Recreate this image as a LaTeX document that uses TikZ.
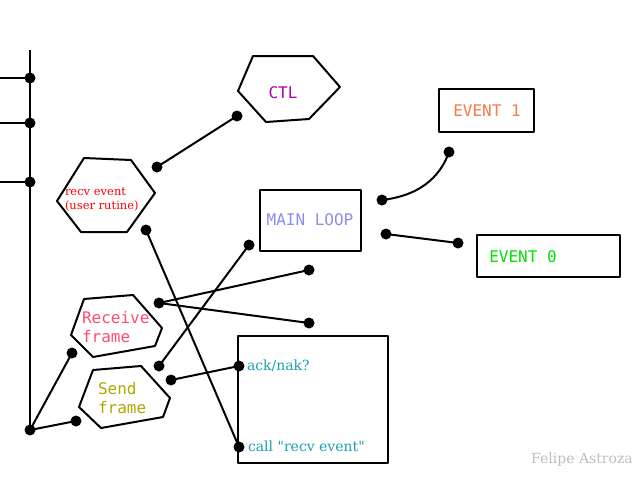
\documentclass[tikz,border=0pt]{standalone}
\usepackage{fontspec}
\setmonofont{DejaVu Sans Mono}
\newfontfamily\plainserif{DejaVu Serif}
\definecolor{ctlc}{RGB}{176,0,176}
\definecolor{mainc}{RGB}{140,140,240}
\definecolor{ev1c}{RGB}{245,122,69}
\definecolor{ev0c}{RGB}{0,225,0}
\definecolor{recc}{RGB}{255,77,110}
\definecolor{sendc}{RGB}{176,168,0}
\definecolor{tealc}{RGB}{26,160,180}
\definecolor{grayc}{RGB}{190,190,190}
\begin{document}
\begin{tikzpicture}[x=1pt,y=-1pt,line width=2pt,line join=round,
  dot/.style={circle,fill=black,inner sep=0pt,minimum size=11pt},
  mono/.style={font=\fontsize{16}{19}\selectfont\ttfamily,inner sep=0pt},
  serif/.style={font=\fontsize{14}{16}\selectfont\plainserif,inner sep=0pt},
  small/.style={font=\fontsize{11.5}{14}\selectfont\plainserif,inner sep=0pt,align=left},
  box/.style={draw=black,line width=2.2pt}]
\useasboundingbox[fill=white] (0,0) rectangle (640,480);

% boxes
\draw[box] (260,190) rectangle (361,251);
\draw[box] (439,89) rectangle (534,132);
\draw[box] (477,235) rectangle (620,277);
\draw[box] (238,336) rectangle (388,463);

% hexagons
\draw (253,56) -- (313,56) -- (340,87) -- (309,119) -- (266,122) -- (238,91) -- cycle;
\draw (84,158) -- (131,160) -- (155,193) -- (127,232) -- (81,232) -- (57,201) -- cycle;
\draw (84,299) -- (133,295) -- (162,328) -- (155,346) -- (93,357) -- (71,335) -- cycle;
\draw (93,370) -- (141,366) -- (170,398) -- (163,417) -- (101,428) -- (79,407) -- cycle;

% texts
\node[mono,text=ctlc] (ctl) at (283,93) {CTL};
\node[mono,text=mainc] (main) at (310,220) {MAIN LOOP};
\node[mono,text=ev1c] (ev1) at (487,111) {EVENT 1};
\node[mono,text=ev0c] (ev0) at (523,257) {EVENT 0};
\node[mono,text=recc,anchor=west,align=left] (recv) at (81,327) {Receive\\frame};
\node[mono,text=sendc,anchor=west,align=left] (send) at (97,398) {Send\\frame};
\node[small,text=red,anchor=west] (rev) at (64,199) {recv event\\(user rutine)};
\node[serif,text=tealc,anchor=west] (ack) at (246,366) {ack/nak?};
\node[serif,text=tealc,anchor=west] (call) at (247,446) {call "recv event"};
\node[serif,text=grayc] (auth) at (582,460) {Felipe Astroza};

% bus
\coordinate (top) at (30,50);
\coordinate (s1) at (0,78);
\coordinate (s2) at (0,123);
\coordinate (s3) at (0,182);
\node[dot] (d1) at (30,78) {};
\node[dot] (d2) at (30,123) {};
\node[dot] (d3) at (30,182) {};
\node[dot] (d4) at (30,430) {};
\draw (top) -- (d4.center);
\draw (s1) -- (d1.center);
\draw (s2) -- (d2.center);
\draw (s3) -- (d3.center);

% dots
\node[dot] (a) at (157,167) {};
\node[dot] (b) at (237,116) {};
\node[dot] (c) at (146,230) {};
\node[dot] (e) at (239,447) {};
\node[dot] (f) at (382,200) {};
\node[dot] (g) at (449,152) {};
\node[dot] (h) at (386,234) {};
\node[dot] (i) at (458,243) {};
\node[dot] (j) at (249,245) {};
\node[dot] (k) at (159,366) {};
\node[dot] (l) at (159,303) {};
\node[dot] (m) at (309,270) {};
\node[dot] (n) at (309,323) {};
\node[dot] (o) at (72,353) {};
\node[dot] (p) at (76,421) {};
\node[dot] (q) at (171,380) {};
\node[dot] (r) at (239,366) {};

% connectors
\draw (a.center) -- (b.center);
\draw (c.center) -- (e.center);
\draw (f.center) .. controls (425,195) and (442,172) .. (g.center);
\draw (h.center) -- (i.center);
\draw (j.center) -- (k.center);
\draw (l.center) -- (m.center);
\draw (l.center) -- (n.center);
\draw (d4.center) -- (o.center);
\draw (d4.center) -- (p.center);
\draw (q.center) -- (r.center);
\end{tikzpicture}
\end{document}
